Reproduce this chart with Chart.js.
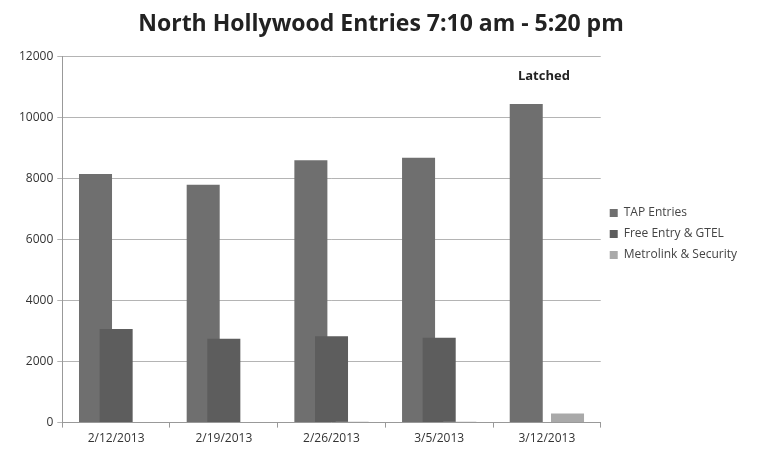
<!DOCTYPE html>
<html>
<head>
<meta charset="utf-8">
<script src="https://cdn.jsdelivr.net/npm/chart.js@4"></script>
<style>
  body { margin: 0; background: #fff; }
  #wrap { width: 772px; height: 452px; }
</style>
</head>
<body>
<div id="wrap"><canvas id="draw-on-me"></canvas></div>
<script>
const dates = ['2/12/2013', '2/19/2013', '2/26/2013', '3/5/2013', '3/12/2013']
const tapEntries = [8150, 7800, 8600, 8680, 10450]
const freeEntry = [3070, 2750, 2830, 2780, 0]
const metrolink = [0, 0, 30, 30, 300]
const yTicks = [0, 2000, 4000, 6000, 8000, 10000, 12000]
const note = 'Latched'

// Excel puts the later series on top where bars overlap
const drawForward = {
  id: 'drawForward',
  beforeDatasetsDraw(chart) {
    chart.getSortedVisibleDatasetMetas().forEach(m => m.controller.draw())
    return false
  }
}

const latchedLabel = {
  id: 'latchedLabel',
  afterDraw(chart) {
    const c = chart.ctx
    const x = chart.scales.x.getPixelForValue(4)
    const y = chart.scales.y.getPixelForValue(11350)
    c.save()
    c.font = 'bold 13px "Open Sans"'
    c.fillStyle = '#222'
    c.textAlign = 'center'
    c.textBaseline = 'middle'
    c.fillText(note, x - 3, y)
    c.restore()
  }
}

const ctx = document.getElementById('draw-on-me').getContext('2d')
const myChart = new Chart(ctx, {
  type: 'bar',
  data: {
    labels: dates,
    datasets: [
      { label: 'TAP Entries', data: tapEntries, backgroundColor: '#6f6f6f' },
      { label: 'Free Entry & GTEL', data: freeEntry, backgroundColor: '#5d5d5d' },
      { label: 'Metrolink & Security', data: metrolink, backgroundColor: '#a9a9a9' }
    ]
  },
  options: {
    responsive: true,
    maintainAspectRatio: false,
    animation: false,
    devicePixelRatio: 1,
    categoryPercentage: 0.575,
    barPercentage: 1.6,
    layout: { padding: { left: 15, right: 25, top: 0, bottom: 2 } },
    plugins: {
      title: {
        display: true,
        text: 'North Hollywood Entries 7:10 am - 5:20 pm',
        font: { family: 'Open Sans', size: 23, weight: 'bold' },
        color: '#222',
        padding: { top: 11, bottom: 18 }
      },
      legend: {
        position: 'right',
        title: { display: true, text: ' ', font: { size: 10 }, padding: { top: 3, bottom: 3 } },
        labels: {
          boxWidth: 8,
          boxHeight: 8,
          padding: 9,
          color: '#444',
          font: { family: 'Open Sans', size: 12 }
        }
      },
      tooltip: { enabled: false }
    },
    scales: {
      x: {
        grid: { display: true, drawOnChartArea: false, tickLength: 5, color: '#999' },
        border: { color: '#999' },
        ticks: { color: '#333', font: { family: 'Open Sans', size: 12 }, padding: 4 }
      },
      y: {
        min: 0,
        max: 12000,
        afterBuildTicks: (axis) => { axis.ticks = yTicks.map(v => ({ value: v })) },
        grid: { color: '#b4b4b4', tickLength: 5 },
        border: { color: '#999' },
        ticks: { color: '#333', font: { family: 'Open Sans', size: 12 }, padding: 4, callback: v => String(v) }
      }
    }
  },
  plugins: [drawForward, latchedLabel]
})
</script>
</body>
</html>
